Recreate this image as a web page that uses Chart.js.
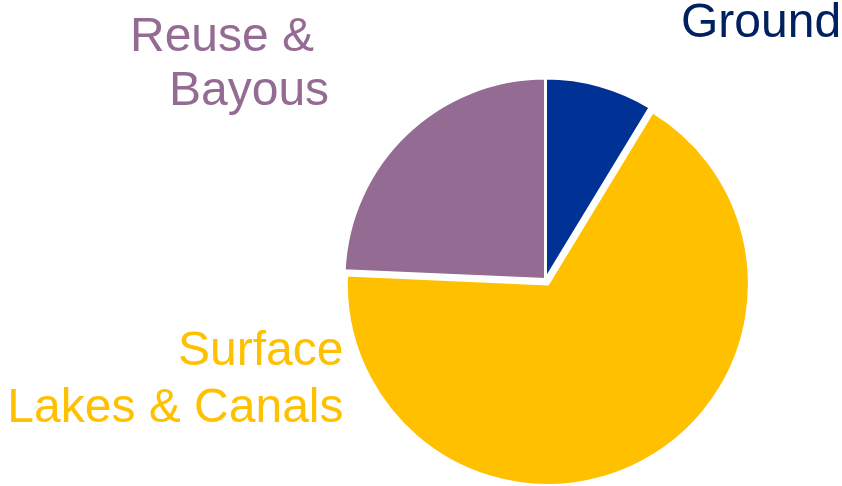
<!DOCTYPE html>
<html>
<head>
<meta charset="utf-8">
<script src="https://cdn.jsdelivr.net/npm/chart.js@4/dist/chart.umd.min.js"></script>
<style>
  html, body { margin: 0; padding: 0; background: #fff; }
  canvas { display: block; }
</style>
</head>
<body>
<canvas id="pie" width="842" height="486"></canvas>
<script>
// water sources, clockwise from 12 o'clock
var sources = [['Ground'], ['Surface', 'Lakes & Canals'], ['Reuse &', 'Bayous']];
var shares = [8.7, 67.0, 24.3];

var sliceColors = ['#003296', '#FFC000', '#946B93'];
var textColors = ['#002060', '#FFC000', '#946B93'];
var pullOut = [0, 5, 0];

// where each text line sits: [x, baseline]
var textSpots = [
    [[681, 37]],
    [[343.5, 365], [343.5, 421.5]],
    [[130, 51], [169, 104.5]]
];
var textAlign = ['left', 'right', 'left'];

// pull a slice out along its middle angle without growing it
var ArcEl = Chart.ArcElement || Chart.elements.ArcElement;
var baseArcDraw = ArcEl.prototype.draw;
ArcEl.prototype.draw = function (ctx) {
    var d = this.pullOut || 0;
    if (!d) return baseArcDraw.call(this, ctx);
    var mid = (this.startAngle + this.endAngle) / 2;
    ctx.save();
    ctx.translate(Math.cos(mid) * d, Math.sin(mid) * d);
    baseArcDraw.call(this, ctx);
    ctx.restore();
};

var sliceText = {
    id: 'sliceText',
    beforeDatasetsDraw: function (chart) {
        chart.getDatasetMeta(0).data.forEach(function (arc, i) {
            arc.pullOut = pullOut[i] || 0;
        });
    },
    afterDraw: function (chart) {
        var ctx = chart.ctx;
        ctx.save();
        ctx.font = '48px "Liberation Sans", Arial, sans-serif';
        ctx.textBaseline = 'alphabetic';
        chart.data.labels.forEach(function (lines, i) {
            ctx.fillStyle = textColors[i];
            ctx.textAlign = textAlign[i];
            lines.forEach(function (line, j) {
                ctx.fillText(line, textSpots[i][j][0], textSpots[i][j][1]);
            });
        });
        ctx.restore();
    }
};

var ctx = document.getElementById('pie').getContext('2d');
var myChart = new Chart(ctx, {
    type: 'pie',
    data: {
        labels: sources,
        datasets: [{
            data: shares,
            backgroundColor: sliceColors,
            borderColor: '#ffffff',
            borderWidth: 3
        }]
    },
    options: {
        responsive: false,
        animation: false,
        events: [],
        layout: {
            padding: { left: 342.5, right: 93.5, top: 76.5, bottom: 3.5 }
        },
        plugins: {
            legend: { display: false },
            tooltip: { enabled: false }
        }
    },
    plugins: [sliceText]
});
</script>
</body>
</html>
